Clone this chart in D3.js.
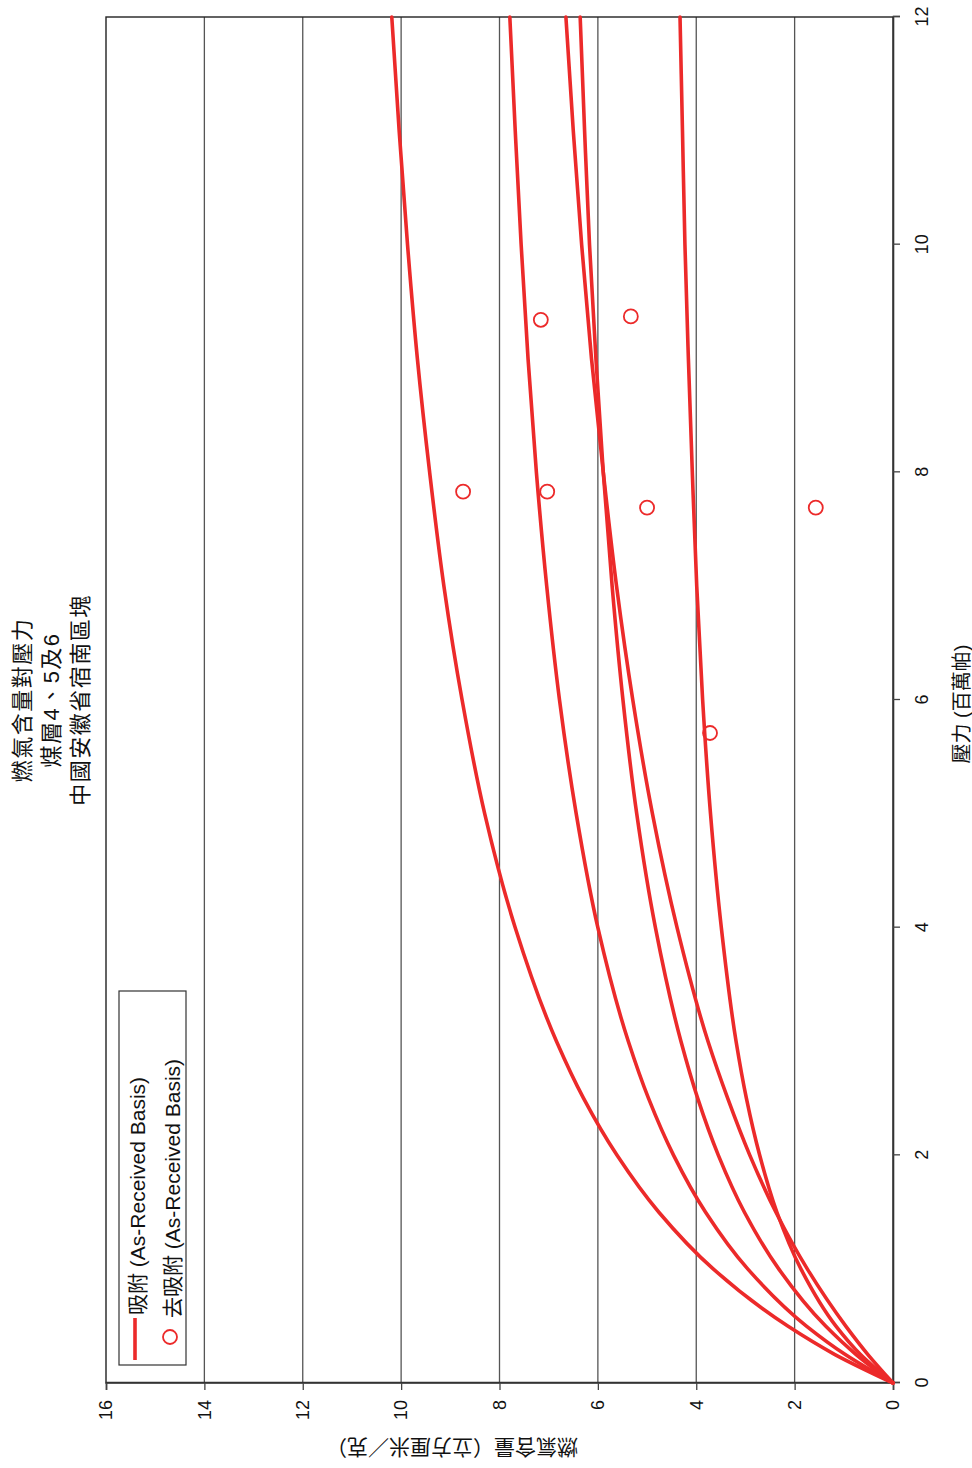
<!DOCTYPE html>
<html>
<head>
<meta charset="utf-8">
<script src="https://cdn.jsdelivr.net/npm/d3@7"></script>
<style>
  html, body { margin: 0; padding: 0; background: #fff; }
  svg { display: block; }
  text { font-family: "Liberation Sans", Arial, "Noto Sans CJK TC", sans-serif; fill: #111; }
</style>
</head>
<body>
<svg id="chart" width="972" height="1468"></svg>
<script>
// ---- data ----
const titleLines = ["燃氣含量對壓力", "煤層4、5及6", "中國安徽省宿南區塊"];
const xLabel = "壓力 (百萬帕)";
const yLabel = "燃氣含量（立方厘米／克）";
const legendLabels = ["吸附 (As-Received Basis)", "去吸附 (As-Received Basis)"];

const pressureTicks = [0, 2, 4, 6, 8, 10, 12];
const gasTicks = [0, 2, 4, 6, 8, 10, 12, 14, 16];

// adsorption isotherms: pressure (MPa) vs gas content (cc/g)
const pressures = [0, 0.25, 0.5, 1, 1.5, 2, 2.5, 3, 4, 5, 6, 7, 8, 9, 10, 11, 12];
const curveA = [0, 1.18, 2.14, 3.65, 4.76, 5.61, 6.29, 6.84, 7.68, 8.30, 8.76, 9.13, 9.42, 9.67, 9.87, 10.04, 10.19];
const curveB = [0, 0.97, 1.76, 2.95, 3.81, 4.46, 4.97, 5.38, 6.00, 6.44, 6.78, 7.04, 7.25, 7.42, 7.56, 7.68, 7.79];
const curveC = [0, 0.51, 0.96, 1.74, 2.38, 2.91, 3.36, 3.76, 4.39, 4.89, 5.29, 5.62, 5.89, 6.13, 6.33, 6.50, 6.65];
const curveD = [0, 0.75, 1.37, 2.32, 3.02, 3.55, 3.97, 4.31, 4.83, 5.21, 5.49, 5.71, 5.89, 6.04, 6.17, 6.27, 6.36];
const curveE = [0, 0.66, 1.16, 1.87, 2.36, 2.71, 2.98, 3.19, 3.49, 3.71, 3.87, 3.99, 4.08, 4.16, 4.23, 4.28, 4.33];

// desorption points
const desorbP = [7.83, 9.34, 7.83, 9.37, 7.69, 7.69, 5.71];
const desorbV = [8.74, 7.16, 7.03, 5.33, 5.00, 1.57, 3.72];

// ---- drawing ----
const red = "#ec2a2a";
const svg = d3.select("#chart");
// chart is laid out in unrotated space (1468 wide x 972 tall), then rotated -90°
const g = svg.append("g").attr("transform", `translate(0,1468) rotate(-90)`);

const m = { left: 85, right: 1451, top: 106, bottom: 893 };
const x = d3.scaleLinear().domain([0, 12]).range([m.left, m.right]);
const y = d3.scaleLinear().domain([0, 16]).range([m.bottom, m.top]);

// gridlines
g.append("g").selectAll("line").data(gasTicks.filter(d => d > 0 && d < 16)).join("line")
  .attr("x1", m.left).attr("x2", m.right)
  .attr("y1", d => y(d)).attr("y2", d => y(d))
  .attr("stroke", "#555").attr("stroke-width", 1.3);

// frame
g.append("rect").attr("x", m.left).attr("y", m.top)
  .attr("width", m.right - m.left).attr("height", m.bottom - m.top)
  .attr("fill", "none").attr("stroke", "#222").attr("stroke-width", 1.4);

// axes
const xAxis = d3.axisBottom(x).tickValues(pressureTicks).tickSize(7).tickPadding(15).tickFormat(d3.format("d"));
const yAxis = d3.axisLeft(y).tickValues(gasTicks).tickSize(7).tickPadding(10).tickFormat(d3.format("d"));
const gx = g.append("g").attr("transform", `translate(0,${m.bottom})`).call(xAxis);
const gy = g.append("g").attr("transform", `translate(${m.left},0)`).call(yAxis);
[gx, gy].forEach(a => {
  a.select(".domain").attr("stroke", "#333").attr("stroke-width", 1.6);
  a.selectAll(".tick line").attr("stroke", "#444").attr("stroke-width", 1.3);
  a.selectAll(".tick text").attr("font-size", 18).attr("fill", "#111")
    .style("font-family", '"Liberation Sans", Arial, sans-serif');
});

// curves
const line = d3.line().x((d, i) => x(pressures[i])).y(d => y(d)).curve(d3.curveMonotoneX);
g.append("g").selectAll("path").data([curveA, curveB, curveC, curveD, curveE]).join("path")
  .attr("d", d => line(d)).attr("fill", "none").attr("stroke", red)
  .attr("stroke-width", 3.6).attr("stroke-linecap", "round");

// desorption points
g.append("g").selectAll("circle").data(desorbP).join("circle")
  .attr("cx", d => x(d)).attr("cy", (d, i) => y(desorbV[i])).attr("r", 7)
  .attr("fill", "none").attr("stroke", red).attr("stroke-width", 1.8);

// title
g.append("g").selectAll("text").data(titleLines).join("text")
  .attr("x", (m.left + m.right) / 2).attr("y", (d, i) => 22 + i * 29)
  .attr("text-anchor", "middle").attr("dominant-baseline", "central")
  .attr("font-size", 22).attr("letter-spacing", 1.5)
  .style("font-family", '"Liberation Sans", Arial, "Noto Sans CJK TC", sans-serif')
  .text(d => d);

// axis titles
g.append("text").attr("x", 704 + 0).attr("y", 962)
  .attr("transform", null)
  .attr("x", 1468 - 704)
  .attr("text-anchor", "middle").attr("dominant-baseline", "central")
  .attr("font-size", 20).text(xLabel);
g.append("text").attr("transform", `translate(21,452) rotate(-90)`)
  .attr("text-anchor", "middle").attr("dominant-baseline", "central")
  .attr("font-size", 21).text(yLabel);

// legend
const lg = g.append("g");
lg.append("rect").attr("x", 103).attr("y", 119).attr("width", 374).attr("height", 67)
  .attr("fill", "#fff").attr("stroke", "#333").attr("stroke-width", 1.2);
lg.append("line").attr("x1", 108).attr("x2", 150).attr("y1", 135).attr("y2", 135)
  .attr("stroke", red).attr("stroke-width", 3.6);
lg.append("circle").attr("cx", 131).attr("cy", 170).attr("r", 7)
  .attr("fill", "none").attr("stroke", red).attr("stroke-width", 1.8);
lg.selectAll("text").data(legendLabels).join("text")
  .attr("x", (d, i) => i === 0 ? 153 : 150).attr("y", (d, i) => i === 0 ? 137 : 172)
  .attr("dominant-baseline", "central").attr("font-size", 21).text(d => d);
</script>
</body>
</html>
